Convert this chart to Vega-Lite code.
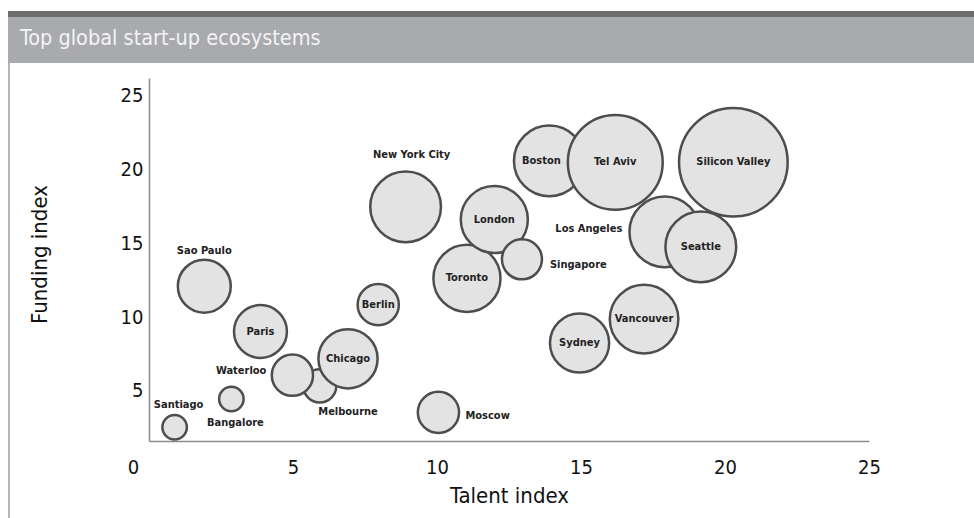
{
  "$schema": "https://vega.github.io/schema/vega-lite/v6.json",
  "padding": {"left": 8, "top": 8, "right": 0, "bottom": 0},
  "background": "white",
  "bounds": "flush",
  "spacing": 0,
  "config": {
    "view": {"stroke": null},
    "font": "DejaVu Sans Condensed, DejaVu Sans, sans-serif",
    "text": {"font": "DejaVu Sans Condensed, DejaVu Sans, sans-serif", "fontSize": 11, "fontWeight": "bold", "color": "#222222", "baseline": "middle"}
  },
  "datasets": {
    "cities": [
      {"city": "Melbourne", "talent": 5.93, "funding": 5.34, "score": 11},
      {"city": "Waterloo", "talent": 4.98, "funding": 6.06, "score": 17},
      {"city": "Chicago", "talent": 6.91, "funding": 7.17, "score": 35},
      {"city": "Santiago", "talent": 0.89, "funding": 2.53, "score": 6},
      {"city": "Bangalore", "talent": 2.86, "funding": 4.45, "score": 6},
      {"city": "Sao Paulo", "talent": 1.92, "funding": 12.09, "score": 28},
      {"city": "Paris", "talent": 3.87, "funding": 9.02, "score": 28},
      {"city": "Berlin", "talent": 7.96, "funding": 10.84, "score": 17},
      {"city": "Moscow", "talent": 10.05, "funding": 3.54, "score": 17},
      {"city": "New York City", "talent": 8.91, "funding": 17.47, "score": 50},
      {"city": "Toronto", "talent": 11.04, "funding": 12.62, "score": 45},
      {"city": "London", "talent": 11.99, "funding": 16.61, "score": 45},
      {"city": "Singapore", "talent": 12.95, "funding": 13.91, "score": 16},
      {"city": "Boston", "talent": 13.9, "funding": 20.58, "score": 50},
      {"city": "Tel Aviv", "talent": 16.19, "funding": 20.48, "score": 90},
      {"city": "Los Angeles", "talent": 17.91, "funding": 15.77, "score": 50},
      {"city": "Seattle", "talent": 19.16, "funding": 14.76, "score": 50},
      {"city": "Silicon Valley", "talent": 20.29, "funding": 20.49, "score": 118},
      {"city": "Sydney", "talent": 14.95, "funding": 8.24, "score": 35},
      {"city": "Vancouver", "talent": 17.19, "funding": 9.86, "score": 47}
    ]
  },
  "vconcat": [
    {
      "width": 966, "height": 6,
      "view": {"fill": "#6d6e70", "stroke": null},
      "data": {"values": [{}]},
      "mark": {"type": "text", "text": ""}
    },
    {
      "width": 966, "height": 46,
      "view": {"fill": "#a8aaad", "stroke": null},
      "title": {
        "text": "Top global start-up ecosystems",
        "anchor": "start", "frame": "group", "orient": "top", "offset": -18,
        "baseline": "alphabetic", "dx": 12, "dy": 31,
        "font": "DejaVu Sans Condensed, DejaVu Sans, sans-serif",
        "fontSize": 21.5, "fontWeight": "normal", "color": "#f4f4f4"
      },
      "data": {"values": [{}]},
      "mark": {"type": "text", "text": ""}
    },
    {
      "bounds": "flush",
      "spacing": 139,
      "hconcat": [
        {
          "width": 2, "height": 458,
          "view": {"fill": "#b4b4b4", "stroke": null},
          "data": {"values": [{}]},
          "mark": {"type": "text", "text": ""}
        },
        {
          "bounds": "flush",
          "spacing": 0,
          "vconcat": [
            {
              "width": 720, "height": 15,
              "data": {"values": [{}]},
              "mark": {"type": "text", "text": ""}
            },
            {
              "width": 720, "height": 363,
              "data": {"name": "cities"},
              "encoding": {
                "x": {
                  "field": "talent", "type": "quantitative",
                  "scale": {"domain": [0, 25], "nice": false, "zero": false},
                  "axis": {
                    "values": [0, 5, 10, 15, 20, 25], "title": "Talent index",
                    "grid": false, "ticks": false, "tickSize": 0,
                    "domainColor": "#8c8c8c", "domainWidth": 1.5,
                    "labelFont": "DejaVu Sans Condensed, DejaVu Sans, sans-serif",
                    "labelFontSize": 20, "labelColor": "#111111",
                    "labelBaseline": "alphabetic", "labelPadding": 32,
                    "labelFlush": false, "labelOverlap": false,
                    "labelOffset": {"condition": {"test": "datum.value === 0", "value": -16}, "value": 0},
                    "titleFont": "DejaVu Sans Condensed, DejaVu Sans, sans-serif",
                    "titleFontSize": 22, "titleFontWeight": "normal", "titleColor": "#111111",
                    "titleBaseline": "alphabetic", "titleY": 61.6
                  }
                },
                "y": {
                  "field": "funding", "type": "quantitative",
                  "scale": {"domain": [1.6, 26.2], "nice": false, "zero": false},
                  "axis": {
                    "values": [5, 10, 15, 20, 25], "title": "Funding index",
                    "grid": false, "ticks": false, "tickSize": 0,
                    "domainColor": "#8c8c8c", "domainWidth": 1.5,
                    "labelFont": "DejaVu Sans Condensed, DejaVu Sans, sans-serif",
                    "labelFontSize": 20, "labelColor": "#111111", "labelPadding": 6,
                    "titleFont": "DejaVu Sans Condensed, DejaVu Sans, sans-serif",
                    "titleFontSize": 22, "titleFontWeight": "normal", "titleColor": "#111111",
                    "titleBaseline": "alphabetic", "titleX": -102.3, "titleY": 176
                  }
                }
              },
              "layer": [
                {
                  "mark": {"type": "circle", "fill": "#e3e3e3", "stroke": "#4d4d4d", "strokeWidth": 2.5, "opacity": 1, "fillOpacity": 1},
                  "encoding": {
                    "size": {"field": "score", "type": "quantitative", "scale": {"type": "linear", "domain": [0, 100], "range": [0, 10000], "zero": true}, "legend": null}
                  }
                },
                {
                  "transform": [{"filter": {"field": "city", "oneOf": ["Chicago", "Paris", "Berlin", "Toronto", "London", "Tel Aviv", "Seattle", "Silicon Valley", "Sydney", "Vancouver"]}}],
                  "mark": {"type": "text", "align": "center"},
                  "encoding": {"text": {"field": "city"}}
                },
                {
                  "transform": [{"filter": "datum.city === 'Boston'"}],
                  "mark": {"type": "text", "align": "center", "dx": -8},
                  "encoding": {"text": {"field": "city"}}
                },
                {
                  "transform": [{"filter": "datum.city === 'New York City'"}],
                  "mark": {"type": "text", "align": "center", "dx": 6, "dy": -52},
                  "encoding": {"text": {"field": "city"}}
                },
                {
                  "transform": [{"filter": "datum.city === 'Los Angeles'"}],
                  "mark": {"type": "text", "align": "right", "dx": -42.5, "dy": -3},
                  "encoding": {"text": {"field": "city"}}
                },
                {
                  "transform": [{"filter": "datum.city === 'Singapore'"}],
                  "mark": {"type": "text", "align": "left", "dx": 28, "dy": 6},
                  "encoding": {"text": {"field": "city"}}
                },
                {
                  "transform": [{"filter": "datum.city === 'Sao Paulo'"}],
                  "mark": {"type": "text", "align": "center", "dy": -35},
                  "encoding": {"text": {"field": "city"}}
                },
                {
                  "transform": [{"filter": "datum.city === 'Waterloo'"}],
                  "mark": {"type": "text", "align": "right", "dx": -26, "dy": -4},
                  "encoding": {"text": {"field": "city"}}
                },
                {
                  "transform": [{"filter": "datum.city === 'Melbourne'"}],
                  "mark": {"type": "text", "align": "left", "dx": -1.5, "dy": 26},
                  "encoding": {"text": {"field": "city"}}
                },
                {
                  "transform": [{"filter": "datum.city === 'Bangalore'"}],
                  "mark": {"type": "text", "align": "center", "dx": 4, "dy": 24.5},
                  "encoding": {"text": {"field": "city"}}
                },
                {
                  "transform": [{"filter": "datum.city === 'Santiago'"}],
                  "mark": {"type": "text", "align": "center", "dx": 4, "dy": -22},
                  "encoding": {"text": {"field": "city"}}
                },
                {
                  "transform": [{"filter": "datum.city === 'Moscow'"}],
                  "mark": {"type": "text", "align": "left", "dx": 27, "dy": 3.5},
                  "encoding": {"text": {"field": "city"}}
                }
              ]
            }
          ]
        }
      ]
    }
  ]
}
